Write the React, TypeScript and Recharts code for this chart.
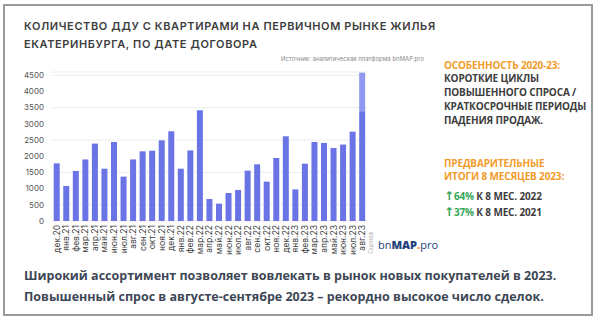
import { BarChart, Bar, XAxis, YAxis, CartesianGrid } from "recharts"

const months = [
  "дек.20", "янв.21", "фев.21", "мар.21", "апр.21", "май.21", "июн.21", "июл.21",
  "авг.21", "сен.21", "окт.21", "ноя.21", "дек.21", "янв.22", "фев.22", "мар.22",
  "апр.22", "май.22", "июн.22", "июл.22", "авг.22", "сен.22", "окт.22", "ноя.22",
  "дек.22", "янв.23", "фев.23", "мар.23", "апр.23", "май.23", "июн.23", "июл.23",
  "авг.23",
]
const deals = [
  1780, 1080, 1545, 1900, 2390, 1615, 2440, 1370,
  1900, 2150, 2170, 2490, 2770, 1615, 2180, 3420,
  680, 535, 865, 960, 1555, 1750, 1215, 1945,
  2615, 975, 1770, 2440, 2410, 2255, 2360, 2760,
  3390,
]
// last month is partly an estimate (lighter top part)
const estimateMonth = "авг.23"
const estimateExtra = 1190
const yTicks = [0, 500, 1000, 1500, 2000, 2500, 3000, 3500, 4000, 4500]

const data = months.map((month, i) => ({
  month,
  deals: deals[i],
  estimate: month === estimateMonth ? estimateExtra : 0,
}))

const BAR = "#6b74e6"
const BAR_LIGHT = "#8f97ee"
const DARK = "#3d3d3d"
const ORANGE = "#f29b2b"
const GREEN = "#35a558"

function MonthTick({ x, y, payload }: any) {
  return (
    <g transform={`translate(${x},${y})`}>
      <text
        transform="rotate(-90)"
        x={0}
        y={0}
        dy="0.35em"
        textAnchor="end"
        fontSize={8.5}
        fontFamily="Inter"
        fill="#3a3a3a"
      >
        {payload.value}
      </text>
      {payload.value === estimateMonth && (
        <text
          transform="rotate(-90)"
          x={-7}
          y={9}
          dy="0.35em"
          textAnchor="end"
          fontSize={6}
          fontFamily="Inter"
          fill="#b5b5b5"
        >
          Оценка
        </text>
      )}
    </g>
  )
}

export default function App() {
  const side = { fontFamily: "Open Sans", fontWeight: 700, fontSize: 10, letterSpacing: -0.15 }
  const arrow = { fontFamily: "DejaVu Sans", fontSize: 12, fontWeight: 700 }
  return (
    <div style={{ position: "absolute", left: 0, top: 0, width: 598, height: 325, background: "#fff" }}>
      <div
        style={{
          position: "absolute",
          left: 3,
          top: 4,
          width: 590,
          height: 312,
          border: "2px solid #9a9a9a",
          boxSizing: "border-box",
        }}
      />
      <div style={{ position: "absolute", left: 0, top: 0 }}>
        <BarChart
          width={380}
          height={270}
          data={data}
          margin={{ top: 72, right: 13, bottom: 0, left: 0 }}
          barCategoryGap="18%"
        >
          <CartesianGrid vertical={false} stroke="#ededed" />
          <XAxis
            dataKey="month"
            interval={0}
            height={49}
            axisLine={false}
            tickLine={false}
            tickSize={0}
            tickMargin={4}
            tick={<MonthTick />}
          />
          <YAxis
            width={52}
            domain={[0, 4600]}
            ticks={yTicks}
            axisLine={false}
            tickLine={false}
            tick={{ fill: "#555", fontSize: 8, fontFamily: "Inter" }}
          />
          <Bar dataKey="deals" stackId="a" fill={BAR} isAnimationActive={false} />
          <Bar dataKey="estimate" stackId="a" fill={BAR_LIGHT} isAnimationActive={false} />
        </BarChart>
      </div>
      <svg
        width={598}
        height={325}
        style={{ position: "absolute", left: 0, top: 0, pointerEvents: "none" }}
      >
        <g fontFamily="Inter" fontWeight={600} fontSize={11} fill={DARK} letterSpacing={0.6}>
          <text x={24} y={30}>КОЛИЧЕСТВО ДДУ С КВАРТИРАМИ НА ПЕРВИЧНОМ РЫНКЕ ЖИЛЬЯ</text>
          <text x={24} y={48}>ЕКАТЕРИНБУРГА, ПО ДАТЕ ДОГОВОРА</text>
        </g>
        <text x={281} y={61} fontFamily="Inter" fontSize={6} fill="#8a8a8a">
          Источник: аналитическая платформа bnMAP.pro
        </text>

        <g {...side}>
          <text x={444} y={68.6} fill={ORANGE}>ОСОБЕННОСТЬ 2020-23:</text>
          <text x={444} y={82.4} fill={DARK}>КОРОТКИЕ ЦИКЛЫ</text>
          <text x={444} y={96.1} fill={DARK}>ПОВЫШЕННОГО СПРОСА /</text>
          <text x={444} y={109.9} fill={DARK}>КРАТКОСРОЧНЫЕ ПЕРИОДЫ</text>
          <text x={444} y={123.6} fill={DARK}>ПАДЕНИЯ ПРОДАЖ.</text>
          <text x={444} y={167} fill={ORANGE}>ПРЕДВАРИТЕЛЬНЫЕ</text>
          <text x={444} y={180.4} fill={ORANGE}>ИТОГИ 8 МЕСЯЦЕВ 2023:</text>
          <text x={444} y={200.4} fill={DARK}>
            <tspan fill={GREEN} {...arrow}>↑</tspan>
            <tspan fill={GREEN}>64%</tspan> К 8 МЕС. 2022
          </text>
          <text x={444} y={216} fill={DARK}>
            <tspan fill={GREEN} {...arrow}>↑</tspan>
            <tspan fill={GREEN}>37%</tspan> К 8 МЕС. 2021
          </text>
        </g>

        <text x={378} y={249} fontFamily="Open Sans" fontSize={11} fill="#22407a">
          bn<tspan fontWeight={800}>MAP</tspan>
          <tspan fill={ORANGE} fontWeight={800}>.</tspan>pro
        </text>

        <g fontFamily="Open Sans" fontWeight={700} fontSize={12.5} fill="#3d4756">
          <text x={24} y={280}>
            Широкий ассортимент позволяет вовлекать в рынок новых покупателей в 2023.
          </text>
          <text x={24} y={301}>
            Повышенный спрос в августе-сентябре 2023 – рекордно высокое число сделок.
          </text>
        </g>
      </svg>
    </div>
  )
}
